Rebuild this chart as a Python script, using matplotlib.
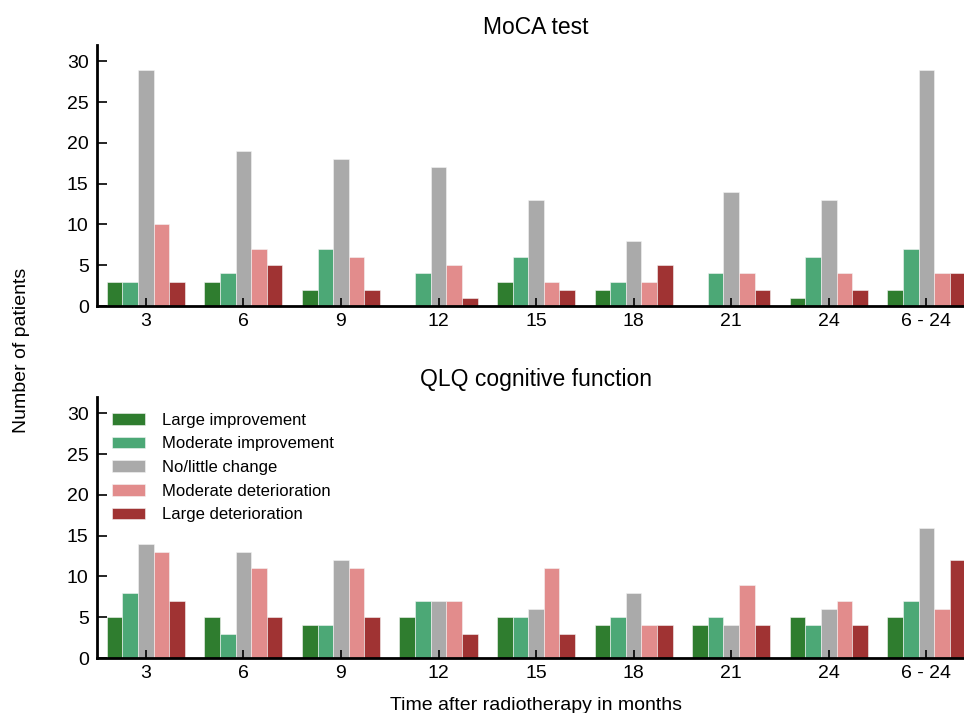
import numpy as np
from matplotlib import pyplot as plt

plt.rcParams['font.family'] = ['Liberation Sans', 'DejaVu Sans']

groups = ['3', '6', '9', '12', '15', '18', '21', '24', '6 - 24']
categories = ['Large improvement', 'Moderate improvement', 'No/little change',
              'Moderate deterioration', 'Large deterioration']
colors = ['#2f7d2f', '#4ca876', '#aaaaaa', '#e28c8c', '#a03333']

# rows: categories, columns: time points
moca = [
    [3, 3, 2, 0, 3, 2, 0, 1, 2],
    [3, 4, 7, 4, 6, 3, 4, 6, 7],
    [29, 19, 18, 17, 13, 8, 14, 13, 29],
    [10, 7, 6, 5, 3, 3, 4, 4, 4],
    [3, 5, 2, 1, 2, 5, 2, 2, 4],
]
qlq = [
    [5, 5, 4, 5, 5, 4, 4, 5, 5],
    [8, 3, 4, 7, 5, 5, 5, 4, 7],
    [14, 13, 12, 7, 6, 8, 4, 6, 16],
    [13, 11, 11, 7, 11, 4, 9, 7, 6],
    [7, 5, 5, 3, 3, 4, 4, 4, 12],
]

fig = plt.figure(figsize=(9.64, 7.13), dpi=100)
ax_top = fig.add_axes([0.1006, 0.5708, 0.911, 0.366])
ax_bot = fig.add_axes([0.1006, 0.0771, 0.911, 0.366])

x = np.arange(len(groups))
w = 0.8 / len(categories)


def draw(ax, data, title):
    for i, (vals, c) in enumerate(zip(data, colors)):
        ax.bar(x - 0.4 + w * (i + 0.5), vals, width=w, color=c,
               edgecolor='#f4f4f4', linewidth=0.4, label=categories[i])
    ax.set_title(title, fontsize=16.5, pad=8)
    ax.set_xlim(-0.5, 8.5)
    ax.set_ylim(0, 32)
    ax.set_yticks(range(0, 31, 5))
    ax.set_xticks(x)
    ax.set_xticklabels(groups)
    for s in ['top', 'right']:
        ax.spines[s].set_visible(False)
    for s in ['left', 'bottom']:
        ax.spines[s].set_linewidth(2)
    ax.tick_params(axis='both', direction='in', labelsize=14, width=1.2)
    ax.tick_params(axis='x', length=6, pad=5)
    ax.tick_params(axis='y', length=7, pad=6)


draw(ax_top, moca, 'MoCA test')
draw(ax_bot, qlq, 'QLQ cognitive function')

ax_bot.legend(loc='upper left', frameon=False, fontsize=12, handlelength=2.0,
              handleheight=0.7, labelspacing=0.52, borderaxespad=0.3,
              handletextpad=1.0, bbox_to_anchor=(0.004, 0.985))
ax_bot.set_xlabel('Time after radiotherapy in months', fontsize=14, labelpad=11)
fig.text(0.022, 0.508, 'Number of patients', rotation=90, fontsize=14,
         ha='center', va='center')

fig.savefig('out.png', dpi=100)
